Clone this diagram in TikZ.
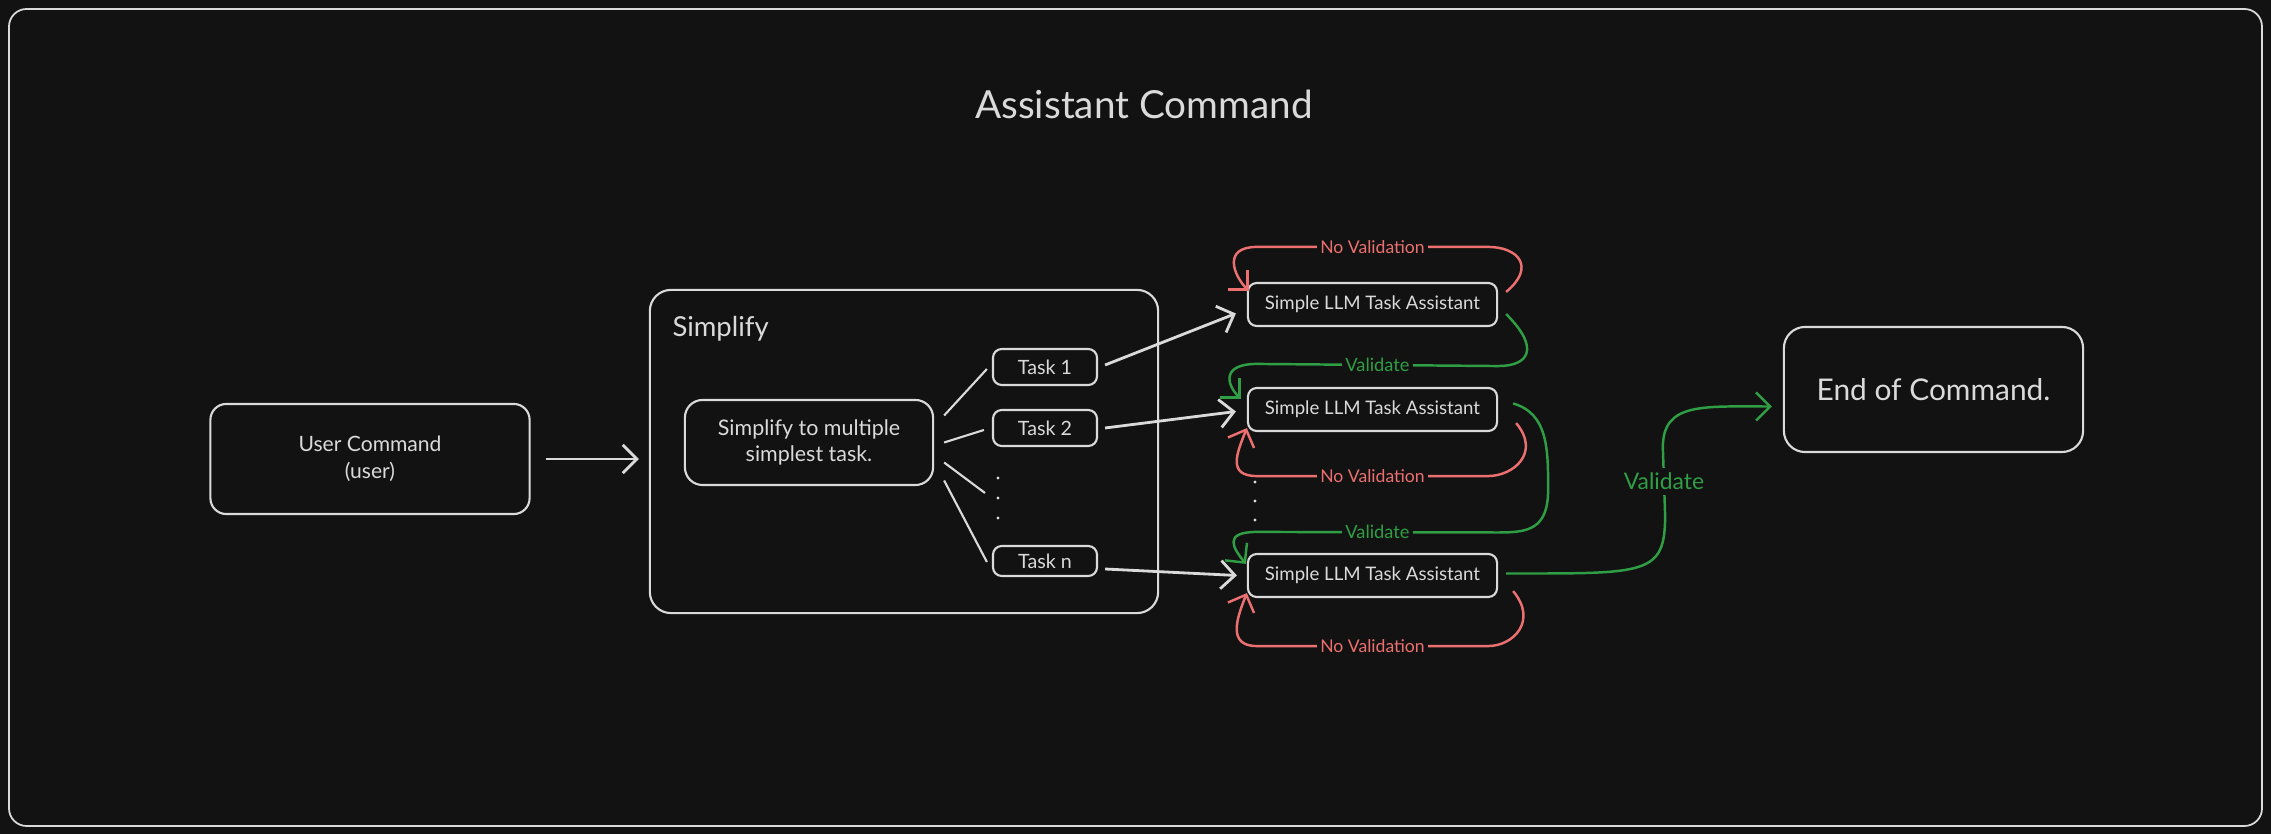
\documentclass[tikz,border=0pt]{standalone}
\usepackage{fontspec}
\setmainfont{Lato}
\usetikzlibrary{arrows.meta,positioning,calc}
\definecolor{bg}{HTML}{121212}
\definecolor{ink}{HTML}{DADADA}
\definecolor{nored}{HTML}{EC7070}
\definecolor{okgreen}{HTML}{2F9E44}
\tikzset{
  frame/.style={draw=ink,line width=0.5pt,rounded corners=5pt},
  box/.style={draw=ink,line width=0.6pt,text=ink,align=center,inner sep=0pt},
  usrbox/.style={box,rounded corners=4.5pt,minimum width=3.19cm,minimum height=1.10cm,font=\fontsize{6}{7.6}\selectfont},
  group/.style={box,rounded corners=6pt,minimum width=5.08cm,minimum height=3.23cm},
  grouplab/.style={text=ink,inner sep=0pt,font=\fontsize{7.8}{9}\selectfont},
  split/.style={box,rounded corners=5pt,minimum width=2.48cm,minimum height=0.85cm,font=\fontsize{6.1}{7.4}\selectfont},
  task/.style={box,rounded corners=2.5pt,minimum width=1.04cm,minimum height=0.36cm,font=\fontsize{5.6}{6}\selectfont},
  llm/.style={box,rounded corners=2.5pt,minimum width=2.49cm,minimum height=0.43cm,font=\fontsize{5.3}{6}\selectfont},
  endbox/.style={box,rounded corners=6pt,minimum width=2.99cm,minimum height=1.25cm,font=\fontsize{8.5}{10}\selectfont},
  dot/.style={circle,fill=ink,inner sep=0pt,minimum size=0.9pt},
  link/.style={draw=ink,line width=0.6pt},
  flow/.style={draw=ink,line width=0.8pt},
  nov/.style={draw=nored,line width=0.7pt},
  val/.style={draw=okgreen,line width=0.7pt},
  nvlab/.style={fill=bg,text=nored,inner sep=1pt,font=\fontsize{5}{6}\selectfont},
  vlab/.style={fill=bg,text=okgreen,inner sep=1pt,font=\fontsize{5.2}{6}\selectfont},
  vbig/.style={fill=bg,text=okgreen,inner sep=1.5pt,font=\fontsize{6.5}{7.5}\selectfont}
}
\begin{document}
\begin{tikzpicture}[x=0.01cm,y=-0.01cm,>={Straight Barb[length=4pt,width=8pt]}]
\fill[bg] (0,0) rectangle (2271,834);
\draw[frame] (9,9) rectangle (2262,826);
\node[text=ink,font=\fontsize{11}{13}\selectfont] (ttl) at (1144,104) {Assistant Command};
\node[usrbox] (user) at (370,459) {User Command\\(user)};
\node[group] (simp) at (904,451.5) {};
\node[grouplab,anchor=west] (simplab) at ($(simp.north west)+(23,40)$) {Simplify};
\node[split] (split) at (809,442.5) {Simplify to multiple\\simplest task.};
\node[task] (task1) at (1045,367) {Task 1};
\node[task] (task2) at (1045,428) {Task 2};
\node[task,minimum height=0.30cm] (taskn) at (1045,561) {Task n};
\foreach \i/\y in {1/478,2/498,3/518}
  \node[dot] (tdot\i) at (998,\y) {};
\node[llm] (llm1) at (1372.5,304.5) {Simple LLM Task Assistant};
\node[llm] (llm2) at (1372.5,409.5) {Simple LLM Task Assistant};
\node[llm] (llm3) at (1372.5,575.5) {Simple LLM Task Assistant};
\foreach \i/\y in {1/482,2/501,3/520}
  \node[dot] (ldot\i) at (1255,\y) {};
\node[endbox] (endc) at (1933.5,389.5) {End of Command.};
\draw[flow,->,shorten <=0.15cm,shorten >=0.1cm] (user.east) -- (user.east -| simp.west);
\draw[link] ($(split.east)+(10,-27)$) -- ($(task1.west)+(-5,2)$);
\draw[link] ($(split.east)+(10,0)$) -- ($(task2.west)+(-8,2)$);
\draw[link] ($(split.east)+(10,20)$) -- ($(tdot2)+(-13,-5)$);
\draw[link] ($(split.east)+(10,38)$) -- ($(taskn.west)+(-5,1)$);
\draw[flow,->] ($(task1.east)+(7,-2)$) -- ($(llm1.west)+(-11,9)$);
\draw[flow,->] ($(task2.east)+(7,0)$) -- ($(llm2.west)+(-11,2)$);
\draw[flow,->] ($(taskn.east)+(7,8)$) -- ($(llm3.west)+(-10,0)$);
\draw[nov,->] ($(llm1.north east)+(8,10)$) .. controls +(30,-25) and +(30,0) .. ($(llm1.north east)+(-10,-35)$) -- node[nvlab]{No Validation} ($(llm1.north west)+(10,-35)$) .. controls +(-35,0) and +(-15,-15) .. ($(llm1.north west)+(2,9)$);
\draw[val,->] ($(llm1.south east)+(8,-13)$) .. controls +(35,35) and +(30,0) .. ($(llm1.south east)+(0,39)$) -- node[vlab]{Validate} ($(llm2.north west)+(10,-23)$) .. controls +(-35,0) and +(-15,-15) .. ($(llm2.north west)+(-6,12)$);
\draw[nov,->] ($(llm2.south east)+(18,-9)$) .. controls +(25,30) and +(25,0) .. ($(llm2.south east)+(-10,44)$) -- node[nvlab]{No Validation} ($(llm2.south west)+(10,44)$) .. controls +(-30,0) and +(-10,25) .. ($(llm2.south west)+(0,-4)$);
\draw[val,->] ($(llm2.east)+(15,-6)$) .. controls +(35,10) and +(0,-40) .. ($(llm2.east)+(50,80)$) .. controls +(0,40) and +(30,0) .. ($(llm2.east)+(0,123)$) -- node[vlab]{Validate} ($(llm3.north west)+(10,-21)$) .. controls +(-35,0) and +(-12,-15) .. ($(llm3.north west)+(-1,11)$);
\draw[nov,->] ($(llm3.south east)+(15,-7)$) .. controls +(25,30) and +(25,0) .. ($(llm3.south east)+(-10,48)$) -- node[nvlab]{No Validation} ($(llm3.south west)+(10,48)$) .. controls +(-30,0) and +(-10,25) .. ($(llm3.south west)+(0,-5)$);
\draw[val,->] ($(llm3.east)+(8,-2)$) .. controls +(140,0) and +(0,60) .. ($(llm3.east)+(167,-60)$) -- node[vbig]{Validate} ($(endc.west)+(-120,58)$) .. controls +(0,-45) and +(-70,0) .. ($(endc.west)+(-11,17)$);
\end{tikzpicture}
\end{document}
